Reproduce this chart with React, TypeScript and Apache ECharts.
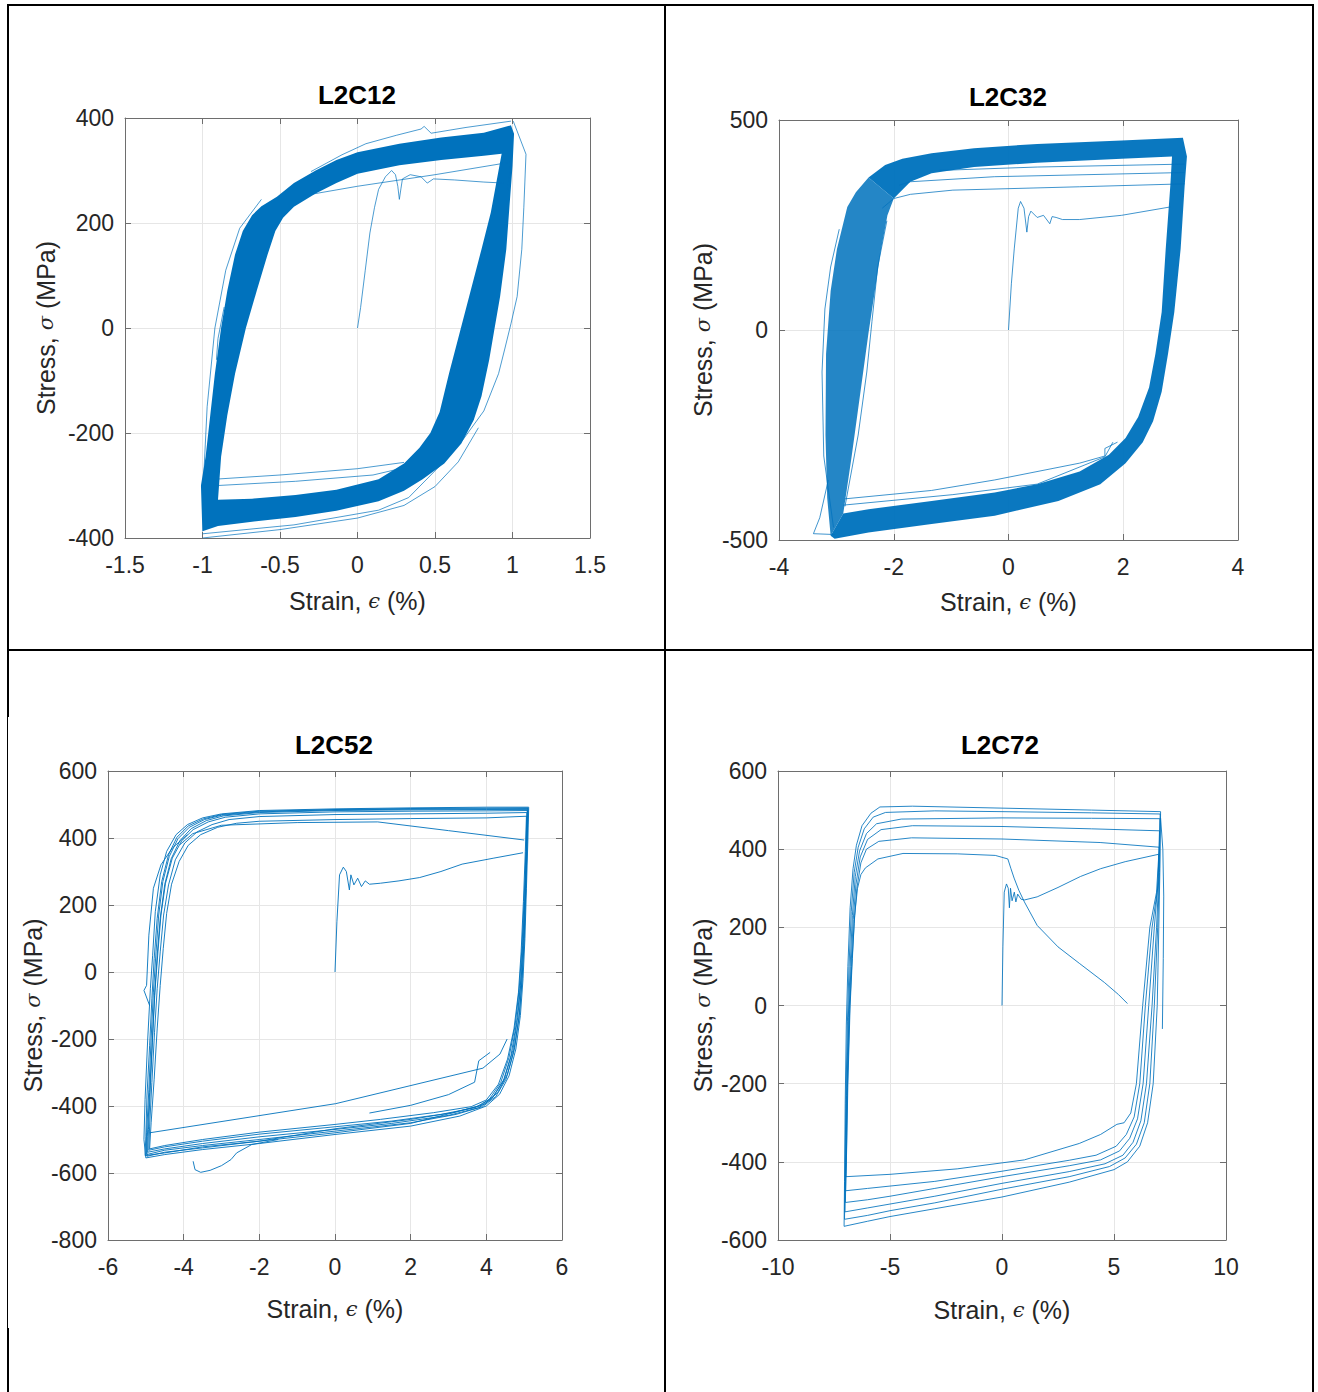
import React, { useEffect, useRef } from 'react';
import * as echarts from 'echarts';

const BLUE = '#0072BD';
const TXT = '#262626';
const FONT = '"Liberation Sans", Arial, Helvetica, sans-serif';

// ---- panel texts / axes ----
const TITLES = ['L2C12', 'L2C32', 'L2C52', 'L2C72'];
const X_NAME = 'Strain, {s|ϵ} (%)';
const Y_NAME = 'Stress, {s|σ} (MPa)';
const X_MIN = [-1.5, -4, -6, -10];
const X_MAX = [1.5, 4, 6, 10];
const X_STEP = [0.5, 2, 2, 5];
const Y_MIN = [-400, -500, -800, -600];
const Y_MAX = [400, 500, 600, 600];
const Y_STEP = [200, 500, 200, 200];

// ---- L2C12 (dense band) ----
const P1_BAND_OUTER = [
  [-1.0, -395], [-1.01, -300], [-0.98, -245], [-0.95, -166], [-0.92, -87], [-0.88, 0], [-0.84, 71],
  [-0.79, 140], [-0.74, 185], [-0.68, 215], [-0.62, 232], [-0.52, 250], [-0.41, 276], [-0.27, 300],
  [-0.136, 320], [0, 335], [0.27, 351], [0.54, 363], [0.815, 372], [0.99, 386], [1.01, 370],
  [1.0, 308], [0.98, 230], [0.96, 150], [0.92, 60], [0.88, -8], [0.85, -60], [0.8, -130],
  [0.75, -175], [0.67, -220], [0.56, -258], [0.42, -288], [0.3, -310], [0.136, -330],
  [-0.136, -348], [-0.4, -360], [-0.68, -369], [-0.9, -377], [-1.0, -387],
];
const P1_BAND_INNER = [
  [-0.9, -327], [-0.88, -245], [-0.84, -166], [-0.79, -87], [-0.72, 0], [-0.65, 71], [-0.58, 140],
  [-0.53, 185], [-0.48, 210], [-0.41, 231], [-0.27, 256], [-0.136, 276], [0, 294], [0.27, 310],
  [0.54, 320], [0.815, 328], [0.93, 332], [0.91, 300], [0.86, 220], [0.8, 150], [0.73, 71],
  [0.66, -8], [0.59, -87], [0.53, -160], [0.47, -200], [0.4, -228], [0.3, -258], [0.136, -288],
  [-0.136, -308], [-0.4, -318], [-0.68, -325],
];
const P1_INITIAL = [
  [0, 0], [0.02, 39], [0.05, 110], [0.08, 181], [0.11, 230], [0.136, 264], [0.18, 288], [0.22, 300],
  [0.245, 292], [0.26, 270], [0.27, 245], [0.28, 265], [0.29, 284], [0.34, 292], [0.41, 288],
  [0.45, 276], [0.49, 284], [0.625, 282], [0.815, 278], [0.95, 276],
];
const P1_OUTER_RIGHT = [
  [1.005, 394], [1.087, 331], [1.073, 229], [1.06, 150], [1.03, 60], [0.99, 8], [0.95, -40],
  [0.91, -87], [0.815, -158], [0.68, -213], [0.54, -260], [0.33, -323], [0.136, -347],
  [-0.41, -375], [-1.0, -392],
];
const P1_OUTER_TOP = [
  [-0.3, 298], [-0.1, 330], [0.054, 351], [0.25, 367], [0.41, 379], [0.43, 384], [0.475, 371],
  [0.7, 382], [0.99, 394],
];
const P1_FRINGE_BOTTOM = [[-1.0, -400], [-0.5, -384], [0.0, -362], [0.3, -338], [0.5, -302], [0.65, -255], [0.78, -190]];
const P1_FRINGE_LEFT = [[-1.0, -330], [-0.97, -150], [-0.92, 0], [-0.85, 110], [-0.76, 190], [-0.62, 245]];
const P1_INNER_TOP = [[-0.35, 252], [0.0, 270], [0.5, 292], [0.99, 316], [0.97, 262]];
const P1_INNER_BOTTOM = [[-0.92, -288], [-0.5, -280], [0.0, -268], [0.3, -256]];
const P1_INNER_BOTTOM_2 = [[-0.9, -300], [-0.4, -292], [0.1, -280], [0.36, -262]];
const P1_LEFT_BUMP = [[-0.86, 40], [-0.9, -20], [-0.91, -60], [-0.86, -70], [-0.84, -30]];

// ---- L2C32 (dense band, split into left strip and C-shaped remainder) ----
const P2_LEFT_OUTER = [
  [-3.1, -490], [-3.16, -400], [-3.19, -250], [-3.18, -57], [-3.1, 93], [-2.99, 193], [-2.81, 293],
  [-2.66, 328], [-2.44, 363],
];
const P2_LEFT_INNER = [
  [-2.88, -437], [-2.74, -307], [-2.59, -157], [-2.44, -7], [-2.33, 93], [-2.22, 193], [-2.11, 273],
  [-2.0, 313],
];
const P2_C_OUTER = [
  [-2.44, 363], [-2.15, 393], [-1.85, 408], [-1.34, 421], [-0.6, 433], [0.5, 443], [1.97, 451],
  [3.04, 458], [3.11, 413], [3.07, 343], [3.0, 193], [2.89, 43], [2.78, -57], [2.67, -147],
  [2.52, -217], [2.34, -267], [2.04, -317], [1.6, -367], [0.87, -407], [-0.24, -442], [-1.34, -462],
  [-2.44, -482], [-3.03, -497], [-3.1, -490],
];
const P2_C_INNER = [
  [-2.0, 313], [-1.71, 353], [-1.34, 373], [-0.6, 388], [0.5, 398], [1.97, 408], [2.85, 413],
  [2.82, 343], [2.74, 193], [2.67, 43], [2.56, -57], [2.45, -137], [2.26, -207], [2.04, -257],
  [1.75, -297], [1.24, -337], [0.5, -367], [-0.24, -387], [-1.34, -407], [-2.44, -427], [-2.88, -437],
];
const P2_INITIAL = [
  [0, 0], [0.05, 110], [0.1, 193], [0.17, 290], [0.21, 306], [0.27, 290], [0.32, 233], [0.35, 270],
  [0.39, 283], [0.5, 268], [0.61, 273], [0.72, 253], [0.76, 270], [0.83, 268], [0.94, 263],
  [1.24, 263], [1.97, 273], [2.82, 293],
];
const P2_TOP_A = [[-2.2, 290], [-2.0, 313], [-1.71, 323], [-0.97, 333], [1.24, 341], [3.07, 348]];
const P2_TOP_B = [[-1.9, 345], [-1.71, 353], [-0.24, 365], [3.07, 375]];
const P2_TOP_C = [[-1.2, 380], [0.5, 388], [3.07, 395]];
const P2_BOTTOM_D = [[-2.85, -402], [-1.34, -382], [-0.24, -357], [1.24, -317], [1.68, -300], [1.68, -282], [1.9, -267]];
const P2_BOTTOM_E = [[-2.88, -417], [-0.97, -392], [0.5, -367], [1.68, -302], [1.82, -267]];
const P2_TAIL = [[-3.14, -357], [-3.29, -447], [-3.4, -485], [-3.03, -487]];
const P2_LEFT_EDGE = [[-3.05, -470], [-3.22, -300], [-3.25, -100], [-3.2, 50], [-3.1, 150], [-2.95, 240]];
const P2_LEFT_INSIDE = [[-2.85, -420], [-2.62, -250], [-2.47, -100], [-2.38, 20], [-2.28, 150], [-2.12, 260]];

// ---- L2C52 (individual cycles) ----
const P3_LOOP_1 = [
  [5.12, 492], [5.1, 400], [5.06, 250], [5.02, 100], [4.97, -20], [4.9, -130], [4.78, -230], [4.6, -310],
  [4.35, -365], [4.0, -400], [3.3, -430], [2.0, -460], [0.0, -485], [-2.0, -512], [-3.5, -530],
  [-4.5, -545], [-5.0, -555], [-5.05, -500], [-5.02, -380], [-4.95, -200], [-4.88, -50], [-4.82, 50],
  [-4.75, 180], [-4.62, 290], [-4.45, 360], [-4.2, 410], [-3.9, 440], [-3.5, 460], [-3.0, 472],
  [-2.0, 482], [0, 487], [2.0, 490], [4.0, 492], [5.12, 492],
];
const P3_LOOP_2 = [
  [5.1, 488], [5.08, 390], [5.04, 240], [5.0, 90], [4.94, -30], [4.86, -140], [4.72, -240], [4.52, -320],
  [4.25, -372], [3.9, -402], [3.2, -425], [2.0, -450], [0.0, -475], [-2.0, -500], [-3.5, -518],
  [-4.5, -532], [-4.98, -545], [-4.98, -480], [-4.92, -350], [-4.86, -200], [-4.8, -60], [-4.73, 60],
  [-4.66, 170], [-4.55, 270], [-4.38, 345], [-4.15, 398], [-3.85, 432], [-3.45, 455], [-3.0, 468],
  [-2.0, 478], [0, 484], [2.0, 486], [4.0, 487], [5.1, 488],
];
const P3_LOOP_3 = [
  [5.08, 482], [5.06, 380], [5.02, 230], [4.96, 80], [4.9, -40], [4.8, -150], [4.65, -250], [4.45, -325],
  [4.15, -378], [3.8, -405], [3.0, -428], [1.5, -452], [0.0, -470], [-2.0, -492], [-3.5, -512],
  [-4.5, -528], [-4.95, -538], [-4.93, -470], [-4.88, -340], [-4.82, -190], [-4.76, -60], [-4.68, 60],
  [-4.6, 170], [-4.48, 265], [-4.3, 340], [-4.05, 392], [-3.75, 425], [-3.35, 448], [-2.9, 462],
  [-2.0, 472], [0, 478], [2.0, 480], [4.0, 481], [5.08, 482],
];
const P3_LOOP_4 = [
  [5.07, 476], [5.05, 370], [5.0, 220], [4.94, 70], [4.87, -50], [4.76, -160], [4.6, -255], [4.38, -330],
  [4.08, -380], [3.7, -405], [2.8, -425], [1.5, -445], [0.0, -462], [-2.0, -484], [-3.5, -505],
  [-4.5, -522], [-4.92, -532], [-4.9, -460], [-4.84, -330], [-4.77, -180], [-4.7, -50], [-4.62, 60],
  [-4.53, 170], [-4.4, 260], [-4.22, 335], [-3.97, 385], [-3.65, 418], [-3.25, 440], [-2.8, 455],
  [-2.0, 464], [0, 470], [2.0, 472], [4.0, 474], [5.07, 476],
];
const P3_LOOP_5 = [
  [5.06, 465], [5.03, 360], [4.98, 210], [4.92, 60], [4.85, -60], [4.73, -170], [4.56, -260], [4.32, -335],
  [4.0, -382], [3.6, -402], [2.6, -420], [1.2, -440], [0.0, -455], [-2.0, -478], [-3.5, -500],
  [-4.5, -518], [-4.9, -528], [-4.86, -450], [-4.78, -320], [-4.7, -170], [-4.62, -40], [-4.54, 70],
  [-4.45, 175], [-4.32, 262], [-4.12, 330], [-3.88, 378], [-3.55, 410], [-3.1, 432], [-2.6, 444],
  [-2.0, 450], [0, 455], [2.0, 458], [4.0, 460], [5.06, 465],
];
const P3_LOOP_6 = [
  [5.09, 485], [5.07, 395], [5.03, 245], [4.98, 95], [4.92, -25], [4.83, -135], [4.7, -235], [4.48, -318],
  [4.18, -372], [3.82, -400], [3.1, -420], [2.0, -440], [0.0, -468], [-2.0, -505], [-3.5, -525],
  [-4.5, -538], [-4.97, -550], [-4.96, -490], [-4.9, -360], [-4.83, -210], [-4.77, -70], [-4.7, 50],
  [-4.62, 160], [-4.5, 262], [-4.33, 338], [-4.1, 392], [-3.8, 428], [-3.4, 452], [-2.95, 466],
  [-2.0, 476], [0, 482], [2.0, 484], [4.0, 485], [5.09, 485],
];
const P3_LOOP_7 = [
  [5.1, 490], [5.08, 405], [5.05, 260], [5.0, 110], [4.95, -10], [4.88, -120], [4.75, -225], [4.56, -305],
  [4.3, -360], [3.95, -395], [3.2, -418], [2.0, -452], [0.0, -480], [-2.0, -505], [-3.5, -522],
  [-4.5, -540], [-5.02, -548], [-5.0, -490], [-4.97, -370], [-4.9, -220], [-4.84, -80], [-4.78, 40],
  [-4.7, 160], [-4.58, 270], [-4.4, 350], [-4.18, 402], [-3.88, 436], [-3.48, 457], [-3.0, 470],
  [-2.0, 480], [0, 485], [2.0, 488], [4.0, 489], [5.1, 490],
];
const P3_INITIAL = [
  [0, 0], [0.05, 150], [0.12, 290], [0.22, 313], [0.3, 300], [0.38, 245], [0.42, 290], [0.5, 260],
  [0.6, 280], [0.7, 255], [0.8, 272], [0.91, 262], [1.2, 265], [1.69, 272], [2.24, 282], [2.8, 300],
  [3.36, 322], [4.2, 340], [4.97, 356],
];
const P3_TOP_DIAGONAL = [[5.0, 394], [3.0, 422], [1.13, 448], [-1.0, 446], [-3.0, 438], [-3.76, 413], [-4.1, 380]];
const P3_BOTTOM_STRAIGHT = [[-4.9, -480], [0.02, -393], [3.91, -287], [4.36, -245], [4.55, -200]];
const P3_BOTTOM_JAGGED = [
  [-3.75, -565], [-3.7, -590], [-3.55, -598], [-3.3, -592], [-3.0, -578], [-2.75, -560], [-2.6, -540],
  [-2.2, -515], [-1.5, -500],
];
const P3_BOTTOM_STEP = [[0.91, -421], [2.0, -398], [3.0, -366], [3.69, -329], [3.8, -265], [4.1, -240]];
const P3_LEFT_OUTER = [[-4.9, -100], [-5.05, -55], [-4.98, -40], [-4.92, 110], [-4.8, 250], [-4.6, 320], [-4.3, 370], [-3.9, 410]];

// ---- L2C72 (individual cycles) ----
const P4_LOOP_1 = [
  [7.08, 496], [7.05, 350], [7.0, 200], [6.93, 0], [6.75, -200], [6.5, -300], [6.15, -360], [5.6, -400],
  [5.0, -420], [3.0, -452], [0.0, -490], [-3.0, -520], [-5.0, -540], [-6.0, -552], [-7.05, -565],
  [-7.03, -450], [-7.0, -250], [-6.95, -50], [-6.88, 100], [-6.78, 250], [-6.65, 350], [-6.5, 410],
  [-6.25, 460], [-5.85, 492], [-5.45, 508], [-4.0, 510], [0.0, 505], [4.0, 500], [7.08, 496],
];
const P4_LOOP_2 = [
  [7.06, 490], [7.03, 340], [6.95, 200], [6.8, 0], [6.6, -200], [6.35, -300], [6.0, -355], [5.5, -390],
  [4.8, -412], [3.0, -438], [0.0, -470], [-3.0, -505], [-5.0, -525], [-6.0, -537], [-7.03, -547],
  [-7.01, -440], [-6.97, -240], [-6.9, -40], [-6.83, 100], [-6.73, 240], [-6.6, 340], [-6.42, 405],
  [-6.15, 452], [-5.75, 482], [-5.2, 494], [-3.0, 498], [0.0, 496], [4.0, 493], [7.06, 490],
];
const P4_LOOP_3 = [
  [7.05, 478], [7.0, 330], [6.9, 200], [6.7, 0], [6.45, -200], [6.2, -295], [5.85, -350], [5.4, -383],
  [4.6, -405], [3.0, -425], [0.0, -455], [-3.0, -488], [-5.0, -508], [-6.0, -518], [-7.01, -528],
  [-6.99, -430], [-6.94, -230], [-6.86, -30], [-6.78, 100], [-6.68, 230], [-6.55, 330], [-6.36, 395],
  [-6.05, 440], [-5.6, 465], [-4.5, 477], [0.0, 480], [4.0, 479], [7.05, 478],
];
const P4_LOOP_4 = [
  [7.03, 447], [6.97, 320], [6.8, 200], [6.55, 0], [6.3, -200], [6.05, -290], [5.7, -340], [5.25, -372],
  [4.4, -395], [3.0, -410], [0.0, -438], [-3.0, -468], [-5.0, -488], [-6.0, -497], [-6.99, -504],
  [-6.97, -420], [-6.92, -220], [-6.83, -20], [-6.74, 100], [-6.64, 220], [-6.52, 310], [-6.33, 380],
  [-6.0, 425], [-5.4, 450], [-4.0, 460], [0.0, 458], [4.0, 452], [7.03, 447],
];
const P4_LOOP_5 = [
  [7.02, 405], [6.95, 300], [6.7, 200], [6.4, 0], [6.15, -200], [5.9, -285], [5.55, -330], [5.1, -360],
  [4.2, -383], [3.0, -396], [0.0, -424], [-3.0, -450], [-5.0, -462], [-6.0, -468], [-6.98, -474],
  [-6.95, -400], [-6.9, -210], [-6.8, -10], [-6.71, 100], [-6.6, 210], [-6.48, 300], [-6.3, 365],
  [-6.05, 400], [-5.5, 420], [-4.04, 429], [0.0, 426], [4.38, 417], [7.02, 405],
];
const P4_LOOP_6 = [
  [7.0, 387], [6.9, 290], [6.6, 200], [6.28, 0], [6.0, -200], [5.75, -275], [5.45, -300], [5.13, -304],
  [4.4, -330], [3.45, -353], [1.0, -395], [-2.0, -418], [-5.0, -432], [-6.97, -438], [-6.94, -380],
  [-6.88, -200], [-6.78, 0], [-6.68, 120], [-6.58, 230], [-6.45, 300], [-6.3, 335], [-6.1, 352],
  [-5.54, 375], [-4.42, 389], [-2.0, 388], [-0.3, 384], [0.26, 375], [0.4, 350], [0.54, 326],
  [0.75, 295], [1.0, 265], [1.57, 205], [2.5, 150], [3.45, 108], [4.57, 59], [5.2, 28], [5.6, 5],
];
const P4_INITIAL = [
  [0, 0], [0.04, 150], [0.1, 290], [0.2, 311], [0.28, 300], [0.33, 250], [0.38, 300], [0.45, 268],
  [0.55, 290], [0.62, 265], [0.7, 285], [0.85, 272], [1.0, 270], [1.57, 278], [2.5, 302], [3.5, 330],
  [4.4, 350], [5.5, 368], [7.0, 387],
];
const P4_OUTER_RIGHT = [[7.08, 480], [7.18, 400], [7.22, 280], [7.2, 120], [7.16, -60]];

// ---- layout (pixels) ----
const GRIDS = [
  { left: 125, top: 118, width: 465, height: 420 },
  { left: 779, top: 120, width: 459, height: 420 },
  { left: 108, top: 771, width: 454, height: 469 },
  { left: 778, top: 771, width: 448, height: 469 },
];
const TITLE_POS = [[357, 82], [1008, 84], [334, 732], [1000, 732]];
const X_NAME_GAP = [50, 49, 56, 57];
const Y_NAME_GAP = [67, 64, 63, 63];

function buildOption() {
  const grid: any[] = [];
  const xAxis: any[] = [];
  const yAxis: any[] = [];
  const series: any[] = [];
  const title: any[] = [];

  const nameStyle = {
    fontSize: 25,
    color: TXT,
    fontFamily: FONT,
    rich: { s: { fontSize: 21, fontStyle: 'italic', fontFamily: '"DejaVu Serif", serif', color: TXT } },
  };
  const lineCol = '#6e6e6e';

  for (let i = 0; i < 4; i++) {
    grid.push({ ...GRIDS[i], containLabel: false });
    title.push({
      text: TITLES[i],
      left: TITLE_POS[i][0],
      top: TITLE_POS[i][1],
      textAlign: 'center',
      padding: 0,
      textStyle: { fontSize: 26, fontWeight: 'bold', color: '#000', fontFamily: FONT },
    });
    const common = {
      type: 'value',
      gridIndex: i,
      axisLine: { show: true, onZero: false, lineStyle: { color: lineCol, width: 1 } },
      axisTick: { show: true, inside: true, length: 6, lineStyle: { color: lineCol } },
    };
    xAxis.push({
      ...common,
      position: 'bottom',
      min: X_MIN[i],
      max: X_MAX[i],
      interval: X_STEP[i],
      name: X_NAME,
      nameLocation: 'middle',
      nameGap: X_NAME_GAP[i],
      nameTextStyle: nameStyle,
      axisLabel: { fontSize: 23, color: TXT, fontFamily: FONT, margin: 15 },
      splitLine: { show: true, lineStyle: { color: '#e6e6e6', width: 1 } },
    });
    xAxis.push({
      ...common,
      position: 'top',
      min: X_MIN[i],
      max: X_MAX[i],
      interval: X_STEP[i],
      axisLabel: { show: false },
      splitLine: { show: false },
    });
    yAxis.push({
      ...common,
      position: 'left',
      min: Y_MIN[i],
      max: Y_MAX[i],
      interval: Y_STEP[i],
      name: Y_NAME,
      nameLocation: 'middle',
      nameGap: Y_NAME_GAP[i],
      nameTextStyle: nameStyle,
      axisLabel: { fontSize: 23, color: TXT, fontFamily: FONT, margin: 11 },
      splitLine: { show: true, lineStyle: { color: '#e6e6e6', width: 1 } },
    });
    yAxis.push({
      ...common,
      position: 'right',
      min: Y_MIN[i],
      max: Y_MAX[i],
      interval: Y_STEP[i],
      axisLabel: { show: false },
      splitLine: { show: false },
    });
  }

  const line = (data: number[][], i: number, opacity = 0.85) => ({
    type: 'line',
    xAxisIndex: 2 * i,
    yAxisIndex: 2 * i,
    data,
    symbol: 'none',
    showSymbol: false,
    silent: true,
    clip: true,
    z: 3,
    lineStyle: { color: BLUE, width: 1, opacity },
  });

  const poly = (points: number[][], i: number, opacity: number) => ({
    type: 'custom',
    xAxisIndex: 2 * i,
    yAxisIndex: 2 * i,
    silent: true,
    clip: true,
    z: 2,
    data: [[0, 0]],
    renderItem: (_params: any, api: any) => ({
      type: 'polygon',
      shape: { points: points.map((p) => api.coord(p)) },
      style: { fill: BLUE, opacity },
    }),
  });
  // ring with a hole: outer path, seam, inner path in reverse
  const ring = (outer: number[][], inner: number[][]) => [
    ...outer, outer[0], inner[0], ...inner.slice(1).reverse(), inner[0],
  ];
  // strip between two edges
  const strip = (a: number[][], b: number[][]) => [...a, ...b.slice().reverse()];

  // panel 1
  series.push(poly(ring(P1_BAND_OUTER, P1_BAND_INNER), 0, 1));
  [P1_INITIAL, P1_OUTER_RIGHT, P1_OUTER_TOP, P1_FRINGE_BOTTOM, P1_FRINGE_LEFT, P1_INNER_TOP, P1_INNER_BOTTOM,
    P1_INNER_BOTTOM_2, P1_LEFT_BUMP].forEach((d) => series.push(line(d, 0, 0.7)));
  // panel 2
  series.push(poly(strip(P2_LEFT_OUTER, P2_LEFT_INNER), 1, 0.86));
  series.push(poly(strip(P2_C_OUTER, P2_C_INNER), 1, 0.96));
  [P2_INITIAL, P2_TOP_A, P2_TOP_B, P2_TOP_C, P2_BOTTOM_D, P2_BOTTOM_E, P2_TAIL, P2_LEFT_EDGE, P2_LEFT_INSIDE].forEach((d) =>
    series.push(line(d, 1, 0.75))
  );
  // panel 3
  [P3_LOOP_1, P3_LOOP_2, P3_LOOP_3, P3_LOOP_4, P3_LOOP_5, P3_LOOP_6, P3_LOOP_7, P3_INITIAL, P3_TOP_DIAGONAL,
    P3_BOTTOM_STRAIGHT, P3_BOTTOM_JAGGED, P3_BOTTOM_STEP, P3_LEFT_OUTER].forEach((d) => series.push(line(d, 2, 0.9)));
  // panel 4
  [P4_LOOP_1, P4_LOOP_2, P4_LOOP_3, P4_LOOP_4, P4_LOOP_5, P4_LOOP_6, P4_INITIAL, P4_OUTER_RIGHT].forEach((d) =>
    series.push(line(d, 3, 0.85))
  );

  const border = (x1: number, y1: number, x2: number, y2: number, w = 2) => ({
    type: 'line',
    silent: true,
    shape: { x1, y1, x2, y2 },
    style: { stroke: '#000', lineWidth: w },
    z: 10,
  });

  const graphic = [
    border(7, 5, 1314, 5),
    border(8, 4, 8, 717),
    border(7.5, 717, 7.5, 1328, 1),
    border(8, 1328, 8, 1392),
    border(665, 4, 665, 1392),
    border(1313, 4, 1313, 1392),
    border(7, 650, 1314, 650),
  ];

  return { animation: false, backgroundColor: '#fff', title, grid, xAxis, yAxis, series, graphic };
}

export default function App() {
  const ref = useRef<HTMLDivElement>(null);
  useEffect(() => {
    if (!ref.current) return;
    const chart = echarts.init(ref.current, undefined, { renderer: 'svg' });
    chart.setOption(buildOption() as any);
    return () => chart.dispose();
  }, []);
  return (
    <div
      ref={ref}
      style={{ position: 'absolute', left: 0, top: 0, width: 1318, height: 1392, background: '#fff' }}
    />
  );
}
